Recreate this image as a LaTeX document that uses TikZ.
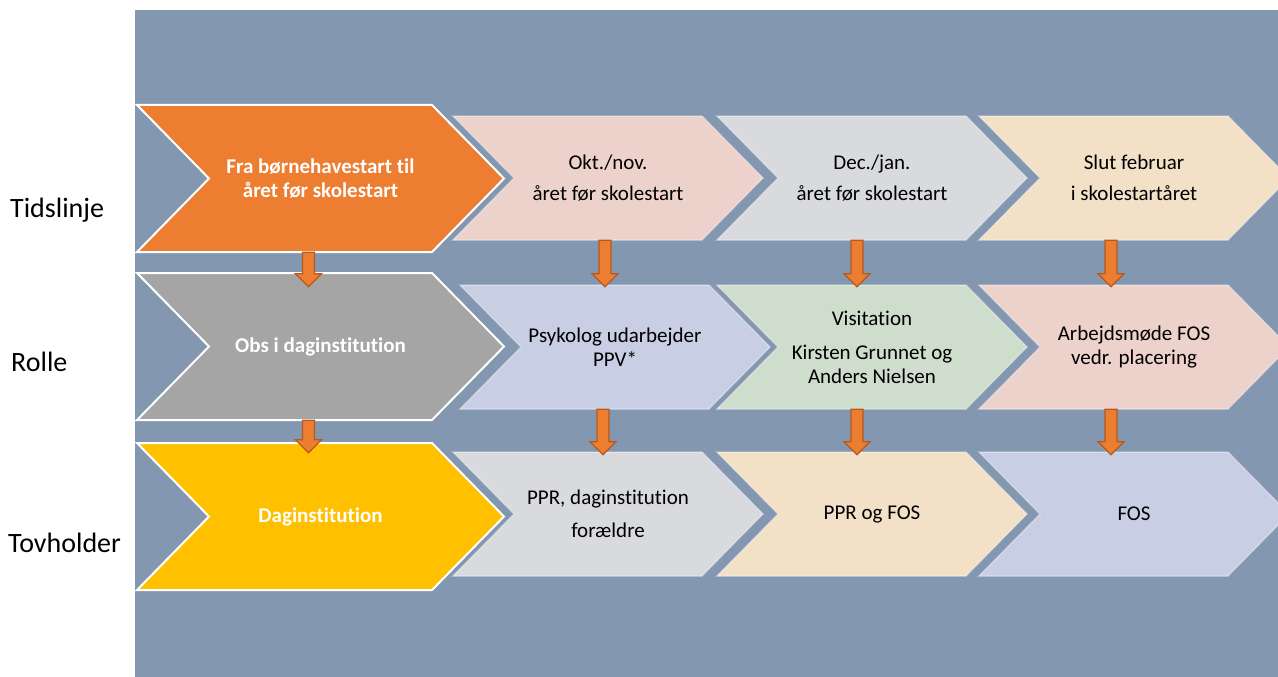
\documentclass[tikz,border=0pt]{standalone}
\usepackage{fontspec}
\setmainfont{Carlito}[Ligatures={NoCommon,NoRequired,NoContextual},Contextuals=NoAlternate]
\usetikzlibrary{calc}
\definecolor{bgblue}{HTML}{8497B0}
\definecolor{orA}{HTML}{ED7D31}
\definecolor{grayA}{HTML}{A5A5A5}
\definecolor{yelA}{HTML}{FFC000}
\definecolor{pinkL}{HTML}{EDD2CB}
\definecolor{grayL}{HTML}{D9DADE}
\definecolor{peachL}{HTML}{F2E0C7}
\definecolor{lavL}{HTML}{C8CEE4}
\definecolor{greenL}{HTML}{CFDDCD}
\definecolor{arrowedge}{HTML}{B4591F}
\tikzset{
  chevbig/.style={draw=white, line width=2pt, line join=miter},
  chevsmall/.style={draw=white, draw opacity=0.35, line width=1.5pt, line join=miter},
  bigtxt/.style={text=white, font=\fontsize{21}{24}\selectfont\bfseries, align=center, inner sep=0pt},
  smalltxt/.style={text=black, font=\fontsize{21}{24}\selectfont, align=center, inner sep=0pt},
  arrowbody/.style={fill=orA, draw=arrowedge, line width=1.3pt, line join=miter},
  rowlabel/.style={anchor=west, font=\fontsize{28}{32}\selectfont, inner sep=0pt}
}
% #1 name, #2 x left, #3 y top, #4 width, #5 height, #6 point depth, #7 shape style, #8 text style, #9 text
\newcommand\chevron[9]{%
  \path[#7] (#2,#3) -- (#2+#4-#6,#3) -- (#2+#4,#3+#5/2) -- (#2+#4-#6,#3+#5) -- (#2,#3+#5) -- (#2+#6,#3+#5/2) -- cycle;
  \node[#8, minimum width=#4pt, minimum height=#5pt] (#1) at (#2+#4/2,#3+#5/2) {#9};}
% #1 from node, #2 to node, #3 x offset from #1, #4 overlap below top of #2
\newcommand\blockarrow[4]{%
  \path[arrowbody] let \p1=($(#1.south)+(#3,0)$), \p2=($(#2.north)+(0,#4)$) in
    (\x1-6pt,\y1) -- (\x1+6pt,\y1) -- (\x1+6pt,\y2+13pt) -- (\x1+13pt,\y2+13pt) -- (\x1,\y2)
    -- (\x1-13pt,\y2+13pt) -- (\x1-6pt,\y2+13pt) -- cycle;}
\begin{document}
\begin{tikzpicture}[x=1pt,y=-1pt]
\useasboundingbox (0,0) rectangle (1278,677);
\clip (0,0) rectangle (1278,677);
\fill[bgblue] (135,10) rectangle (1278,677);

% row labels
\node[rowlabel] (lab1) at (10,210) {Tidslinje};
\node[rowlabel] (lab2) at (11,362) {Rolle};
\node[rowlabel] (lab3) at (8,543) {Tovholder};

% row 1
\chevron{r1c1}{137}{105}{367}{147}{72}{chevbig,fill=orA}{bigtxt}{Fra børnehavestart til\\året før skolestart}
\chevron{r1c2}{453}{116}{310}{124}{61}{chevsmall,fill=pinkL}{smalltxt}{Okt./nov.\\[7pt]året før skolestart}
\chevron{r1c3}{717}{116}{310}{124}{61}{chevsmall,fill=grayL}{smalltxt}{Dec./jan.\\[7pt]året før skolestart}
\chevron{r1c4}{979}{116}{310}{124}{61}{chevsmall,fill=peachL}{smalltxt}{Slut februar\\[7pt]i skolestartåret}

% row 2
\chevron{r2c1}{137}{273}{367}{147}{72}{chevbig,fill=grayA}{bigtxt}{Obs i daginstitution}
\chevron{r2c2}{460}{285}{310}{124}{61}{chevsmall,fill=lavL}{smalltxt}{Psykolog udarbejder\\PPV*}
\chevron{r2c3}{717}{285}{310}{124}{61}{chevsmall,fill=greenL}{smalltxt}{Visitation\\[10pt]Kirsten Grunnet og\\Anders Nielsen}
\chevron{r2c4}{979}{285}{310}{124}{61}{chevsmall,fill=pinkL}{smalltxt}{Arbejdsmøde FOS\\vedr. placering}

% row 3
\chevron{r3c1}{137}{443}{367}{147}{72}{chevbig,fill=yelA}{bigtxt}{Daginstitution}
\chevron{r3c2}{453}{452}{310}{124}{61}{chevsmall,fill=grayL}{smalltxt}{PPR, daginstitution\\[9pt]forældre}
\chevron{r3c3}{717}{452}{310}{124}{61}{chevsmall,fill=peachL}{smalltxt}{PPR og FOS}
\chevron{r3c4}{979}{452}{310}{124}{61}{chevsmall,fill=lavL}{smalltxt}{FOS}

% arrows
\blockarrow{r1c1}{r2c1}{-12}{14}
\blockarrow{r1c2}{r2c2}{-3}{2}
\blockarrow{r1c3}{r2c3}{-15}{2}
\blockarrow{r1c4}{r2c4}{-23}{2}
\blockarrow{r2c1}{r3c1}{-12}{10}
\blockarrow{r2c2}{r3c2}{-12}{3}
\blockarrow{r2c3}{r3c3}{-15}{3}
\blockarrow{r2c4}{r3c4}{-23}{3}
\end{tikzpicture}
\end{document}
